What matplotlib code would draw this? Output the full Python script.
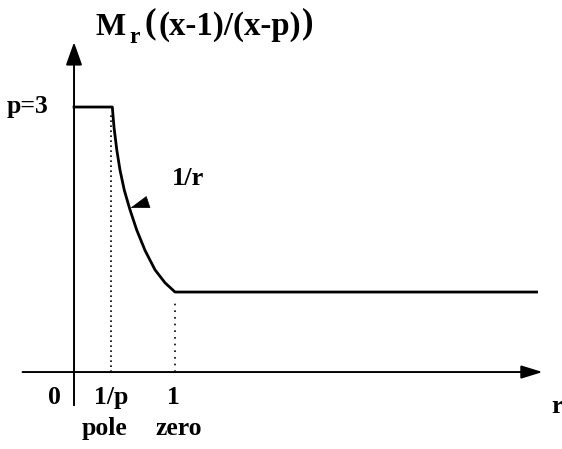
import matplotlib
matplotlib.use("Agg")
import matplotlib.pyplot as plt

# curve (r, M_r)
r_vals = [0.0, 0.379, 0.396, 0.423, 0.455, 0.498, 0.554, 0.621, 0.703, 0.802, 0.901, 1.0, 4.58]
m_vals = [3.0, 3.0, 2.78, 2.54, 2.32, 2.10, 1.89, 1.67, 1.45, 1.24, 1.10, 1.0, 1.0]

r_pole = 0.367
r_zero = 1.0
axis_m = 0.135

tick_labels = ["0", "1/p", "1"]
sub_labels = ["pole", "zero"]

W, H = 562, 449
plt.rcParams['font.family'] = ['Liberation Serif', 'DejaVu Serif']
plt.rcParams['font.weight'] = 'bold'

fig = plt.figure(figsize=(W / 100, H / 100), dpi=100)
ax = fig.add_axes([0, 0, 1, 1])
ax.set_xlim(-0.733, 4.832)
ax.set_ylim(-0.697, 4.157)
ax.axis('off')


def px(x, y):
    # pixel position -> figure fraction
    return x / W, 1 - y / H


# axes with arrows
ax.annotate("", xy=(4.64, axis_m), xytext=(-0.51, axis_m),
            arrowprops=dict(arrowstyle="-|>,head_length=1.3,head_width=0.4",
                            lw=1.4, color="black", shrinkA=0, shrinkB=0))
ax.annotate("", xy=(0, 3.70), xytext=(0, axis_m),
            arrowprops=dict(arrowstyle="-|>,head_length=1.4,head_width=0.5",
                            lw=1.4, color="black", shrinkA=0, shrinkB=0))
ax.plot([0, 0], [axis_m, -0.22], color="black", lw=1.4)

# dotted guides
ax.plot([r_pole, r_pole], [axis_m, 2.95], color="black", lw=1.2, ls=(0, (1, 2)))
ax.plot([r_zero, r_zero], [axis_m, 0.9], color="black", lw=1.2, ls=(0, (1, 3)))

# the curve
ax.plot(r_vals, m_vals, color="black", lw=2.0, solid_joinstyle="round")

# 1/r label with arrowhead
ax.text(1.13, 2.23, "1/r", fontsize=19, fontweight="bold", ha="center", va="center")
ax.annotate("", xy=(0.56, 1.91), xytext=(0.728, 1.97),
            arrowprops=dict(arrowstyle="-|>,head_length=1.25,head_width=0.42",
                            lw=0.5, color="black", shrinkA=0, shrinkB=0))

# tick labels
for xpix, lab in zip([54, 111, 173], tick_labels):
    fig.text(*px(xpix, 404), lab, fontsize=18.5, fontweight="bold",
             ha="center", va="baseline")
for xpix, lab in zip([105, 179], sub_labels):
    fig.text(*px(xpix, 435), lab, fontsize=18.5, fontweight="bold",
             ha="center", va="baseline")
fig.text(*px(551, 413), "r", fontsize=18.5, fontweight="bold", ha="left", va="baseline")
fig.text(*px(28, 113), "p=3", fontsize=18.5, fontweight="bold", ha="center", va="baseline")

# title
fig.text(*px(96, 35), "M", fontsize=23, fontweight="bold", va="baseline")
fig.text(*px(129, 43), "r", fontsize=17, fontweight="bold", va="baseline")
fig.text(*px(144, 32), "(", fontsize=25, fontweight="bold", va="baseline")
fig.text(*px(159, 35), "(x-1)/(x-p)", fontsize=23.7, fontweight="bold", va="baseline")
fig.text(*px(302, 32), ")", fontsize=25, fontweight="bold", va="baseline")

fig.savefig("out.png", dpi=100)
